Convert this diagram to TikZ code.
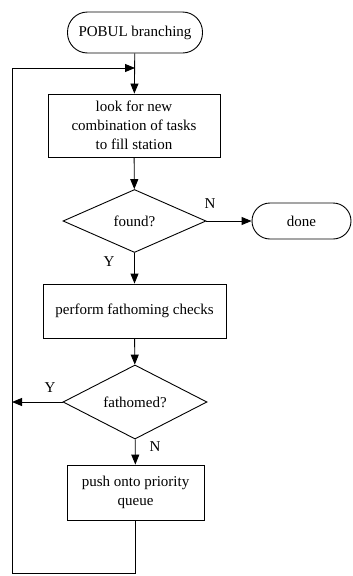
\documentclass[tikz,border=0pt]{standalone}
\usepackage{fontspec}
\setmainfont{Liberation Serif}
\usetikzlibrary{shapes.geometric,arrows.meta}
\begin{document}
\begin{tikzpicture}[x=1pt,y=1pt,
  every node/.style={font=\fontsize{15}{19}\selectfont},
  line/.style={draw=black,line width=0.9pt},
  arr/.style={line,-{Triangle[length=10pt,width=8pt]}},
  proc/.style={line,rectangle,inner sep=0pt,align=center},
  term/.style={line,rectangle,rounded corners=18pt,inner sep=0pt},
  dec/.style={line,diamond,inner sep=0pt,minimum width=143pt,minimum height=63pt}
]
\useasboundingbox (0,0) rectangle (353,-576);
\node[term,minimum width=135pt,minimum height=41pt,rounded corners=20pt] (start) at (135,-32.5) {POBUL branching};
\node[proc,minimum width=172pt,minimum height=63pt] (look) at (134,-125.5) {look for new\\combination of tasks\\to fill station};
\node[dec] (found) at (134.5,-221) {found?};
\node[term,minimum width=99pt,minimum height=36pt] (done) at (301.5,-221) {done};
\node[proc,minimum width=183pt,minimum height=54pt] (check) at (134.5,-311) {perform fathoming checks};
\node[dec,minimum width=144pt] (fath) at (135,-402) {fathomed?};
\node[proc,minimum width=137pt,minimum height=55pt] (push) at (135.5,-492.5) {push onto priority\\queue};
\node (lN1) at (210,-204) {N};
\node (lY1) at (109,-262) {Y};
\node (lY2) at (50,-388) {Y};
\node (lN2) at (155,-447) {N};
\coordinate (lb) at (12,-573);
\coordinate (lt) at (12,-68);
\coordinate (jn) at (135,-68);
\coordinate (ly) at (12,-402);
\draw[arr] (start) -- (look);
\draw[arr] (look) -- (found);
\draw[arr] (found) -- (done);
\draw[arr] (found) -- (check);
\draw[arr] (check) -- (fath);
\draw[arr] (fath) -- (push);
\draw[arr] (fath.west) -- (ly);
\draw[arr] (push.south) |- (lb) -- (lt) -- (jn);
\end{tikzpicture}
\end{document}
